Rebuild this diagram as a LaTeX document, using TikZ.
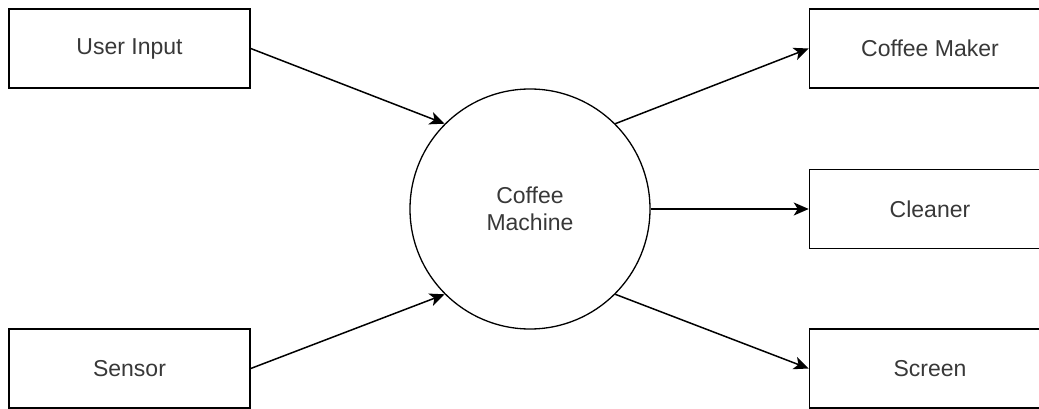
\documentclass[tikz,border=0pt]{standalone}
\usepackage{fontspec}
\setmainfont{Liberation Sans}
\usetikzlibrary{arrows.meta}
\begin{document}
\begin{tikzpicture}[x=1pt,y=-1pt,
  every node/.style={font=\fontsize{23}{27}\selectfont, text=black!78},
  entity/.style={draw=black, line width=1.5pt, rectangle, minimum width=241pt, minimum height=79pt, inner sep=0pt},
  process/.style={draw=black, line width=1.3pt, circle, minimum size=240pt, inner sep=0pt, align=center},
  flow/.style={draw=black, line width=1.5pt, -{Stealth[length=15pt,width=13pt,inset=4pt]}}]
  \useasboundingbox[fill=white] (0,0) rectangle (1039,409);

  % external entities
  \node[entity] (ui) at (129.5,48.5) {User Input};
  \node[entity] (sn) at (129.5,368.5) {Sensor};
  \node[entity] (mk) at (930,48.5) {Coffee Maker};
  \node[entity] (cl) at (930,209) {Cleaner};
  \node[entity] (sc) at (930,368.5) {Screen};

  % central process
  \node[process] (cm) at (530,209) {Coffee\\Machine};

  % data flows
  \draw[flow] (ui.east) -- (cm.135);
  \draw[flow] (sn.east) -- (cm.225);
  \draw[flow] (cm.45) -- (mk.west);
  \draw[flow] (cm.east) -- (cl.west);
  \draw[flow] (cm.-45) -- (sc.west);
\end{tikzpicture}
\end{document}
